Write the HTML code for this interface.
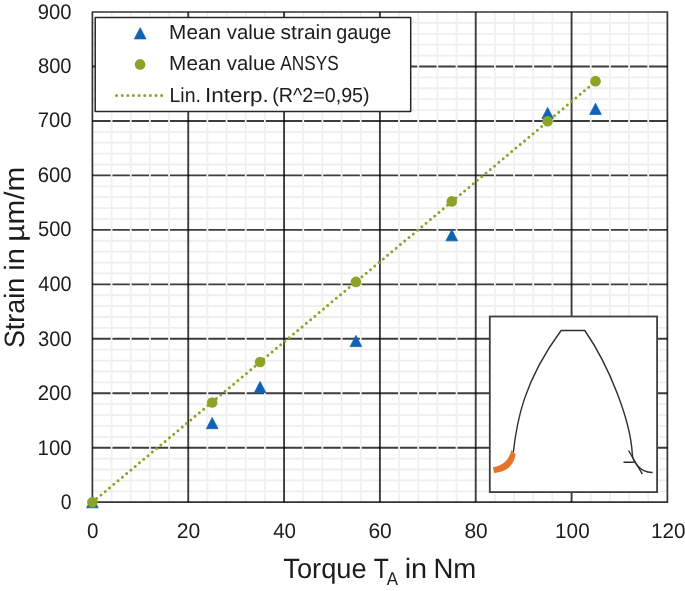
<!DOCTYPE html>
<html><head><meta charset="utf-8"><style>
html,body{margin:0;padding:0;background:#fff;}
svg{display:block;will-change:transform;}
text{font-family:"Liberation Sans",sans-serif;fill:#1c1c1c;text-rendering:geometricPrecision;}
</style></head><body>
<svg width="685" height="591" viewBox="0 0 685 591">
<rect x="0" y="0" width="685" height="591" fill="#fff"/>

<path d="M92.40 491.31H667.40M92.40 480.41H667.40M92.40 469.52H667.40M92.40 458.63H667.40M92.40 436.84H667.40M92.40 425.95H667.40M92.40 415.05H667.40M92.40 404.16H667.40M92.40 382.37H667.40M92.40 371.48H667.40M92.40 360.59H667.40M92.40 349.69H667.40M92.40 327.91H667.40M92.40 317.01H667.40M92.40 306.12H667.40M92.40 295.23H667.40M92.40 273.44H667.40M92.40 262.55H667.40M92.40 251.65H667.40M92.40 240.76H667.40M92.40 218.97H667.40M92.40 208.08H667.40M92.40 197.19H667.40M92.40 186.29H667.40M92.40 164.51H667.40M92.40 153.61H667.40M92.40 142.72H667.40M92.40 131.83H667.40M92.40 110.04H667.40M92.40 99.15H667.40M92.40 88.25H667.40M92.40 77.36H667.40M92.40 55.57H667.40M92.40 44.68H667.40M92.40 33.79H667.40M92.40 22.89H667.40" stroke="#eeeeee" stroke-width="1.8" fill="none"/>
<path d="M92.40 447.73H667.40M92.40 393.27H667.40M92.40 338.80H667.40M92.40 284.33H667.40M92.40 229.87H667.40M92.40 175.40H667.40M92.40 120.93H667.40M92.40 66.47H667.40" stroke="#000" stroke-opacity="0.76" stroke-width="1.9" fill="none"/>
<path d="M111.57 502.20V12.00M130.73 502.20V12.00M149.90 502.20V12.00M169.07 502.20V12.00M207.40 502.20V12.00M226.57 502.20V12.00M245.73 502.20V12.00M264.90 502.20V12.00M303.23 502.20V12.00M322.40 502.20V12.00M341.57 502.20V12.00M360.73 502.20V12.00M399.07 502.20V12.00M418.23 502.20V12.00M437.40 502.20V12.00M456.57 502.20V12.00M494.90 502.20V12.00M514.07 502.20V12.00M533.23 502.20V12.00M552.40 502.20V12.00M590.73 502.20V12.00M609.90 502.20V12.00M629.07 502.20V12.00M648.23 502.20V12.00" stroke="#f0f0f0" stroke-width="1.8" fill="none"/>
<path d="M188.23 502.20V12.00M284.07 502.20V12.00M379.90 502.20V12.00M475.73 502.20V12.00M571.57 502.20V12.00" stroke="#000" stroke-opacity="0.76" stroke-width="1.9" fill="none"/>
<rect x="92.40" y="12.00" width="575.00" height="490.20" fill="none" stroke="#000" stroke-opacity="0.8" stroke-width="1.7" stroke-linejoin="round"/>
<text x="60.77" y="509.00" font-size="21.2" textLength="10.80" lengthAdjust="spacingAndGlyphs">0</text>
<text x="37.56" y="455.00" font-size="21.2" textLength="34.03" lengthAdjust="spacingAndGlyphs">100</text>
<text x="37.80" y="400.00" font-size="21.2" textLength="33.79" lengthAdjust="spacingAndGlyphs">200</text>
<text x="38.04" y="346.00" font-size="21.2" textLength="33.54" lengthAdjust="spacingAndGlyphs">300</text>
<text x="38.33" y="291.00" font-size="21.2" textLength="33.24" lengthAdjust="spacingAndGlyphs">400</text>
<text x="37.99" y="236.00" font-size="21.2" textLength="33.59" lengthAdjust="spacingAndGlyphs">500</text>
<text x="37.80" y="182.00" font-size="21.2" textLength="33.79" lengthAdjust="spacingAndGlyphs">600</text>
<text x="37.75" y="127.00" font-size="21.2" textLength="33.84" lengthAdjust="spacingAndGlyphs">700</text>
<text x="37.94" y="73.00" font-size="21.2" textLength="33.64" lengthAdjust="spacingAndGlyphs">800</text>
<text x="37.85" y="18.50" font-size="21.2" textLength="33.74" lengthAdjust="spacingAndGlyphs">900</text>
<text x="87.12" y="537.90" font-size="21.2" textLength="11.50" lengthAdjust="spacingAndGlyphs">0</text>
<text x="176.74" y="537.90" font-size="21.2" textLength="23.47" lengthAdjust="spacingAndGlyphs">20</text>
<text x="273.13" y="537.90" font-size="21.2" textLength="22.89" lengthAdjust="spacingAndGlyphs">40</text>
<text x="368.40" y="537.90" font-size="21.2" textLength="23.47" lengthAdjust="spacingAndGlyphs">60</text>
<text x="464.39" y="537.90" font-size="21.2" textLength="23.31" lengthAdjust="spacingAndGlyphs">80</text>
<text x="555.10" y="537.90" font-size="21.2" textLength="34.57" lengthAdjust="spacingAndGlyphs">100</text>
<text x="650.94" y="537.90" font-size="21.2" textLength="34.57" lengthAdjust="spacingAndGlyphs">120</text>
<text x="283.32" y="577.90" font-size="28" textLength="83.37" lengthAdjust="spacingAndGlyphs">Torque</text>
<text x="373.87" y="577.90" font-size="28" textLength="15.11" lengthAdjust="spacingAndGlyphs">T</text>
<text x="386.75" y="584.60" font-size="18.4" textLength="11.27" lengthAdjust="spacingAndGlyphs">A</text>
<text x="404.69" y="577.90" font-size="28" textLength="22.52" lengthAdjust="spacingAndGlyphs">in</text>
<text x="433.44" y="577.90" font-size="28" textLength="42.88" lengthAdjust="spacingAndGlyphs">Nm</text>
<g transform="translate(24 0) rotate(-90)">
<text x="-348.10" y="0.00" font-size="28" textLength="70.27" lengthAdjust="spacingAndGlyphs">Strain</text>
<text x="-270.82" y="0.00" font-size="28" textLength="22.64" lengthAdjust="spacingAndGlyphs">in</text>
<text x="-241.72" y="0.00" font-size="28" textLength="74.84" lengthAdjust="spacingAndGlyphs">µm/m</text>
</g>
<path d="M92.40 502.20L595.53 81.50" stroke="#8ca329" stroke-width="3" stroke-linecap="round" stroke-dasharray="0 5.577" fill="none"/>
<path d="M92.40 496.60L98.20 507.80L86.60 507.80ZM212.19 417.46L217.99 428.66L206.39 428.66ZM260.11 381.46L265.91 392.66L254.31 392.66ZM355.94 335.38L361.74 346.58L350.14 346.58ZM451.77 229.60L457.57 240.80L445.97 240.80ZM547.61 107.44L553.41 118.64L541.81 118.64ZM595.53 103.19L601.33 114.39L589.73 114.39Z" fill="#0f63b2" stroke="#0f63b2" stroke-width="0.8" stroke-linejoin="round"/>
<circle cx="92.40" cy="502.20" r="5.3" fill="#8ca329"/>
<circle cx="212.19" cy="402.47" r="5.3" fill="#8ca329"/>
<circle cx="260.11" cy="362.06" r="5.3" fill="#8ca329"/>
<circle cx="355.94" cy="281.88" r="5.3" fill="#8ca329"/>
<circle cx="451.77" cy="201.38" r="5.3" fill="#8ca329"/>
<circle cx="547.61" cy="121.21" r="5.3" fill="#8ca329"/>
<circle cx="595.53" cy="81.17" r="5.3" fill="#8ca329"/>
<rect x="95.2" y="17.6" width="315.5" height="93.8" fill="#fff" stroke="#262626" stroke-width="1.5" stroke-linejoin="round"/>
<path d="M140.20 27.70L146.00 38.90L134.40 38.90Z" fill="#0f63b2" stroke="#0f63b2" stroke-width="0.8" stroke-linejoin="round"/>
<circle cx="140.1" cy="64.4" r="5.3" fill="#8ca329"/>
<path d="M116.6 95.6H161.6" stroke="#8ca329" stroke-width="3" stroke-linecap="round" stroke-dasharray="0 5.625" fill="none"/>
<text x="169.11" y="38.90" font-size="20.3" textLength="51.89" lengthAdjust="spacingAndGlyphs">Mean</text>
<text x="226.75" y="38.90" font-size="20.3" textLength="48.73" lengthAdjust="spacingAndGlyphs">value</text>
<text x="280.53" y="38.90" font-size="20.3" textLength="51.51" lengthAdjust="spacingAndGlyphs">strain</text>
<text x="336.37" y="38.90" font-size="20.3" textLength="55.00" lengthAdjust="spacingAndGlyphs">gauge</text>
<text x="169.11" y="70.40" font-size="20.3" textLength="51.89" lengthAdjust="spacingAndGlyphs">Mean</text>
<text x="226.85" y="70.40" font-size="20.3" textLength="48.73" lengthAdjust="spacingAndGlyphs">value</text>
<text x="280.36" y="70.40" font-size="20.3" textLength="58.32" lengthAdjust="spacingAndGlyphs">ANSYS</text>
<text x="169.51" y="101.90" font-size="20.3" textLength="31.44" lengthAdjust="spacingAndGlyphs">Lin.</text>
<text x="204.95" y="101.90" font-size="20.3" textLength="63.69" lengthAdjust="spacingAndGlyphs">Interp.</text>
<text x="272.19" y="101.90" font-size="20.3" textLength="97.44" lengthAdjust="spacingAndGlyphs">(R^2=0,95)</text>
<rect x="489.8" y="316.5" width="167.3" height="175.6" fill="#fff" stroke="#3e3e3e" stroke-width="1.8"/>
<path d="M513.3 452.5 C516.8 421.3 523.5 381.4 561.1 330.5 H584.8 C609.7 366.5 630.7 421.2 632.3 454.2 C632.6 460.3 639.1 472.9 652.6 472.5" stroke="#2e2e2e" stroke-width="1.4" fill="none"/>
<path d="M628.5 450.5 L642.4 474.2 M623.5 462.2 H634.6" stroke="#2e2e2e" stroke-width="1.4" fill="none"/>
<path d="M511.3 450.1 C511.2 451.1 509.3 464.4 492.9 467.2 L494 472.9 C503.8 472.1 512.7 468.9 515.6 454.5 Z" fill="#e3752b"/>
</svg></body></html>
